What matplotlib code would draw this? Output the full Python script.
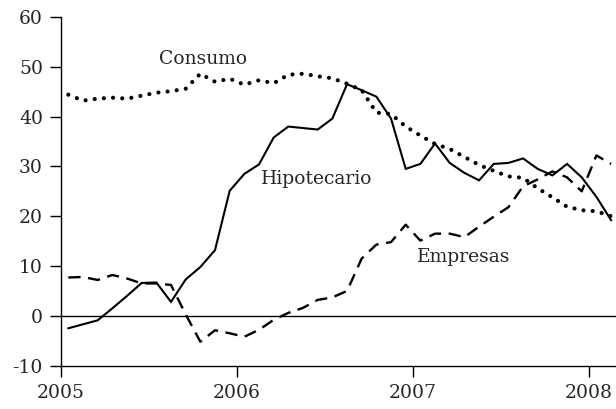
import numpy as np
import pandas as pd
import matplotlib
matplotlib.use("Agg")
import matplotlib.pyplot as plt

plt.rcParams['font.family'] = ['DejaVu Serif']
plt.rcParams['axes.unicode_minus'] = False

# datos mensuales, enero 2005 - febrero 2008
meses = pd.period_range("2005-01", "2008-02", freq="M")

consumo = [44.4, 43.2, 43.6, 43.8, 43.6, 44.2, 44.8, 45.1, 45.6, 48.6, 47.0, 47.6,
           46.4, 47.3, 46.7, 48.4, 48.6, 48.1, 47.7, 46.6, 45.3, 40.8, 40.5, 38.0,
           36.2, 34.5, 33.5, 31.9, 30.3, 29.1, 28.0, 27.7, 25.6, 23.8, 21.9, 21.2,
           21.0, 20.0]
hipotecario = [-2.5, -1.7, -0.9, 1.5, 4.0, 6.6, 6.7, 2.8, 7.3, 9.8, 13.2, 25.1,
               28.5, 30.4, 35.8, 38.0, 37.7, 37.4, 39.6, 46.5, 45.3, 44.0, 39.6, 29.5,
               30.5, 34.6, 30.7, 28.7, 27.2, 30.5, 30.7, 31.6, 29.5, 28.2, 30.5, 27.8,
               23.9, 19.2]
empresas = [7.7, 7.8, 7.2, 8.2, 7.5, 6.5, 6.5, 6.2, 0.3, -5.2, -2.9, -3.5,
            -4.2, -2.8, -0.8, 0.6, 1.6, 3.2, 3.7, 5.0, 11.5, 14.3, 14.8, 18.3,
            15.1, 16.5, 16.5, 15.8, 17.9, 19.9, 21.8, 26.0, 27.4, 29.0, 27.8, 25.0,
            32.2, 30.5]

# posicion: mitad de cada mes
x = np.array([m.year + (m.month - 0.5) / 12 for m in meses])

fig = plt.figure(figsize=(6.16, 4.09), dpi=100)
ax = fig.add_axes([0.099, 0.106, 0.901, 0.8525])

ax.axhline(0, color="black", lw=1.0)
ax.plot(x, hipotecario, color="black", lw=1.5, solid_joinstyle="miter")
ax.plot(x, empresas, color="black", lw=1.7, linestyle=(0, (5.2, 3.2)))
ax.plot(x, consumo, color="black", lw=3.0, linestyle=(0, (0.01, 2.2)),
        dash_capstyle="round")

color_texto = "#262626"
ax.text(2005.807, 51.6, "Consumo", ha="center", va="center", fontsize=13.5, color=color_texto)
ax.text(2006.454, 27.4, "Hipotecario", ha="center", va="center", fontsize=13.5, color=color_texto)
ax.text(2007.289, 11.8, "Empresas", ha="center", va="center", fontsize=13.5, color=color_texto)

ax.set_xlim(2005, 2008.153)
ax.set_ylim(-10, 60)
ax.set_xticks([2005, 2006, 2007, 2008])
ax.set_yticks(range(-10, 61, 10))
ax.tick_params(direction="out", length=8, width=1.0, labelsize=13.5, pad=5,
               labelcolor=color_texto)

for s in ["top", "right"]:
    ax.spines[s].set_visible(False)
for s in ["left", "bottom"]:
    ax.spines[s].set_linewidth(1.0)

fig.savefig("out.png", dpi=100)
